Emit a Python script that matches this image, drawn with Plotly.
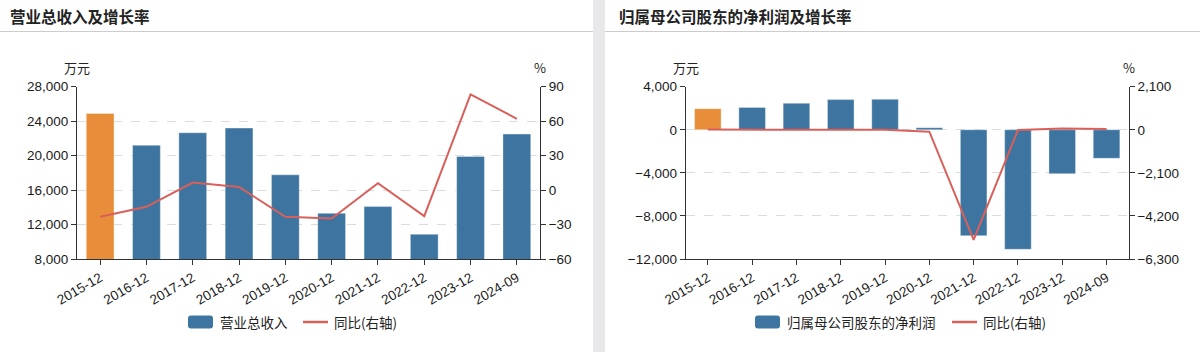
import plotly.graph_objects as go

categories = ["2015-12", "2016-12", "2017-12", "2018-12", "2019-12",
              "2020-12", "2021-12", "2022-12", "2023-12", "2024-09"]

revenue = [24900, 21200, 22650, 23200, 17770, 13300, 14085, 10870, 19900, 22500]
revenue_yoy = [-23.3, -14.6, 6.5, 2.7, -23.3, -24.7, 5.9, -22.7, 83.3, 62.0]

profit = [1960, 2080, 2460, 2800, 2830, 190, -9830, -11100, -4075, -2650]
profit_yoy = [10.0, 6.7, 18.0, 13.6, 1.3, -92.0, -5370.0, -12.9, 63.3, 35.0]

left_title = "营业总收入及增长率"
right_title = "归属母公司股东的净利润及增长率"
left_bar_name = "营业总收入"
right_bar_name = "归属母公司股东的净利润"
line_name = "同比(右轴)"

ORANGE = "#E88E3A"
BLUE = "#3D75A0"
RED = "#D9605A"
FONT = "Liberation Sans, Arial, sans-serif"
CJK = "Noto Sans CJK SC"

W, H = 1200, 352


def px_x(v):
    return v / W


def px_y(v):
    return 1 - v / H


bar_colors = [ORANGE] + [BLUE] * (len(categories) - 1)

fig = go.Figure()

fig.add_trace(go.Bar(x=categories, y=revenue, name=left_bar_name,
                     marker=dict(color=bar_colors, line=dict(color="rgba(255,255,255,0.35)", width=1)),
                     width=0.6, xaxis="x", yaxis="y"))
fig.add_trace(go.Scatter(x=categories, y=revenue_yoy, name=line_name, mode="lines",
                         line=dict(color=RED, width=2), xaxis="x", yaxis="y2"))
fig.add_trace(go.Bar(x=categories, y=profit, name=right_bar_name,
                     marker=dict(color=bar_colors, line=dict(color="rgba(255,255,255,0.35)", width=1)),
                     width=0.6, xaxis="x2", yaxis="y3"))
fig.add_trace(go.Scatter(x=categories, y=profit_yoy, name=line_name, mode="lines",
                         line=dict(color=RED, width=2), xaxis="x2", yaxis="y4"))

ydom = [px_y(259), px_y(86.7)]
tickfont = dict(family=FONT, size=13.5, color="#1a1a1a")
common_y = dict(showline=True, linecolor="#333", linewidth=1, ticks="outside", ticklen=5,
                tickcolor="#333", tickfont=tickfont, zeroline=False, domain=ydom, automargin=False)
common_x = dict(type="category", showline=True, linecolor="#333", linewidth=1, ticks="outside",
                ticklen=5, tickcolor="#333", tickangle=-30,
                tickfont=dict(family=FONT, size=13.5, color="#1a1a1a"),
                showgrid=False, zeroline=False, automargin=False)

fig.update_layout(
    width=W, height=H, margin=dict(l=0, r=0, t=0, b=0, autoexpand=False),
    paper_bgcolor="white", plot_bgcolor="white", bargap=0.4, showlegend=False,
    xaxis=dict(domain=[px_x(77), px_x(540)], anchor="y", range=[-0.5, 9.5], **common_x),
    xaxis2=dict(domain=[px_x(685.7), px_x(1128.7)], anchor="y3", range=[-0.5, 9.5], **common_x),
    yaxis=dict(anchor="x", range=[8000, 28000], dtick=4000, tickformat=",d",
               showgrid=True, gridcolor="#dcdcdc", griddash="dash", **common_y),
    yaxis2=dict(anchor="x", overlaying="y", side="right", range=[-60, 90], dtick=30,
                showgrid=False, **common_y),
    yaxis3=dict(anchor="x2", range=[-12000, 4000], dtick=4000, tickformat=",d",
                showgrid=True, gridcolor="#dcdcdc", griddash="dash", **common_y),
    yaxis4=dict(anchor="x2", overlaying="y3", side="right", range=[-6300, 2100], dtick=2100,
                tickformat=",d", showgrid=False, **common_y),
)


def rounded_rect(x0, y0, x1, y1, r):
    X = px_x
    Y = px_y
    return (f"M {X(x0 + r)} {Y(y0)} L {X(x1 - r)} {Y(y0)} Q {X(x1)} {Y(y0)} {X(x1)} {Y(y0 + r)} "
            f"L {X(x1)} {Y(y1 - r)} Q {X(x1)} {Y(y1)} {X(x1 - r)} {Y(y1)} "
            f"L {X(x0 + r)} {Y(y1)} Q {X(x0)} {Y(y1)} {X(x0)} {Y(y1 - r)} "
            f"L {X(x0)} {Y(y0 + r)} Q {X(x0)} {Y(y0)} {X(x0 + r)} {Y(y0)} Z")


shapes = [
    dict(type="rect", xref="paper", yref="paper", x0=px_x(593), x1=px_x(605), y0=0, y1=1,
         fillcolor="#e8e8ea", line=dict(width=0), layer="below"),
    dict(type="line", xref="paper", yref="paper", x0=0, x1=px_x(593), y0=px_y(31.5), y1=px_y(31.5),
         line=dict(color="#cccccc", width=1)),
    dict(type="line", xref="paper", yref="paper", x0=px_x(605), x1=1, y0=px_y(31.5), y1=px_y(31.5),
         line=dict(color="#cccccc", width=1)),
]

annotations = [
    dict(text="<b>" + left_title + "</b>", x=px_x(8), y=px_y(16), xanchor="left", yanchor="middle",
         xref="paper", yref="paper", showarrow=False, font=dict(family=CJK, size=15.5, color="#222")),
    dict(text="<b>" + right_title + "</b>", x=px_x(617), y=px_y(16), xanchor="left", yanchor="middle",
         xref="paper", yref="paper", showarrow=False, font=dict(family=CJK, size=15.5, color="#222")),
]
for txt, xx in [("万元", 77), ("%", 540), ("万元", 685.7), ("%", 1128.7)]:
    annotations.append(dict(text=txt, x=px_x(xx), y=px_y(68), xref="paper", yref="paper",
                            xanchor="center", yanchor="middle", showarrow=False,
                            font=dict(family=CJK, size=13, color="#222")))

# legends drawn manually: (bar swatch x0, bar label, line swatch x0)
legend_specs = [(188, left_bar_name, 303), (755, right_bar_name, 952)]
LY = 322
for bx, bname, lx in legend_specs:
    shapes.append(dict(type="path", xref="paper", yref="paper",
                       path=rounded_rect(bx, LY - 6.5, bx + 25, LY + 6.5, 3),
                       fillcolor=BLUE, line=dict(width=0)))
    shapes.append(dict(type="line", xref="paper", yref="paper", x0=px_x(lx), x1=px_x(lx + 25),
                       y0=px_y(LY), y1=px_y(LY), line=dict(color=RED, width=2.5)))
    annotations.append(dict(text=bname, x=px_x(bx + 30), y=px_y(LY), xref="paper", yref="paper",
                            xanchor="left", yanchor="middle", showarrow=False,
                            font=dict(family=CJK, size=13.5, color="#222")))
    annotations.append(dict(text=line_name, x=px_x(lx + 29), y=px_y(LY), xref="paper", yref="paper",
                            xanchor="left", yanchor="middle", showarrow=False,
                            font=dict(family=CJK, size=13.5, color="#222")))

fig.update_layout(shapes=shapes, annotations=annotations)

fig.write_html("out.html")
